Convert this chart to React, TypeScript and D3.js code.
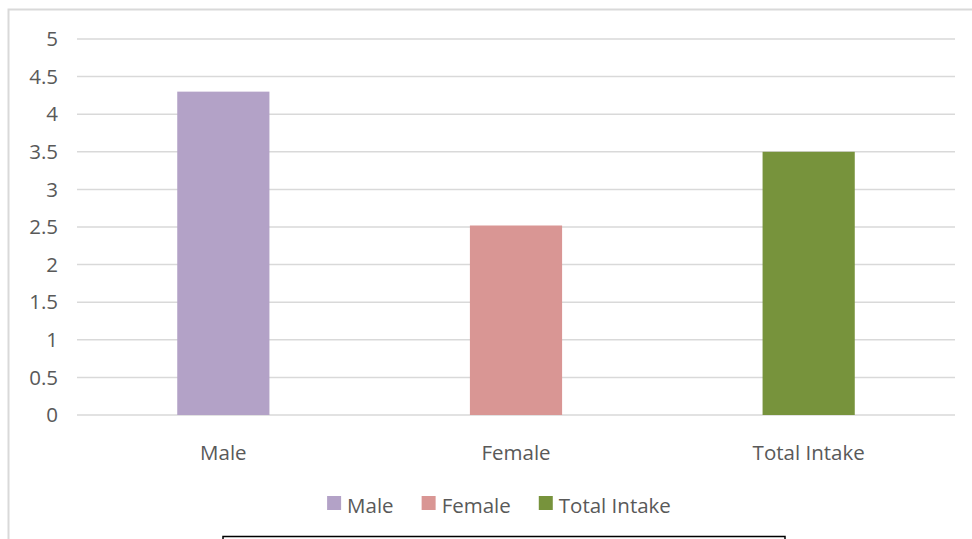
import React, { useEffect, useRef } from "react";
import * as d3 from "d3";

const categories = ["Male", "Female", "Total Intake"];
const values = [4.3, 2.52, 3.5];
const colors = ["#b3a2c7", "#d99694", "#77933c"];
const yTicks = [0, 0.5, 1, 1.5, 2, 2.5, 3, 3.5, 4, 4.5, 5];

const W = 972;
const H = 539;
const FONT = "'Open Sans', sans-serif";
const FS = 20.5;
const TEXT = "#595959";

const App = () => {
  const ref = useRef<SVGSVGElement | null>(null);

  useEffect(() => {
    const svg = d3.select(ref.current!);
    svg.selectAll("*").remove();

    // outer chart border (right/bottom run off the picture)
    svg.append("rect").attr("x", 8.5).attr("y", 9.5).attr("width", W + 20).attr("height", H + 20)
      .attr("fill", "#fff").attr("stroke", "#d9d9d9").attr("stroke-width", 2);

    const x = d3.scaleBand<string>().domain(categories).range([77, 955]).paddingInner(0.685).paddingOuter(0.3425);
    const y = d3.scaleLinear().domain([0, 5]).range([415, 39]);

    svg.append("g").selectAll("line").data(yTicks).join("line")
      .attr("x1", 77).attr("x2", 955)
      .attr("y1", d => y(d)).attr("y2", d => y(d))
      .attr("stroke", "#d9d9d9").attr("stroke-width", 1.5);

    svg.append("g").selectAll("text").data(yTicks).join("text")
      .attr("x", 58).attr("y", d => y(d)).attr("dy", "0.35em")
      .attr("text-anchor", "end").attr("font-family", FONT).attr("font-size", FS).attr("fill", TEXT)
      .text(d => String(d));

    svg.append("g").selectAll("rect").data(categories).join("rect")
      .attr("x", d => x(d)!).attr("width", x.bandwidth())
      .attr("y", (d, i) => y(values[i])).attr("height", (d, i) => y(0) - y(values[i]))
      .attr("fill", (d, i) => colors[i]);

    svg.append("g").selectAll("text").data(categories).join("text")
      .attr("x", d => x(d)! + x.bandwidth() / 2).attr("y", 460)
      .attr("text-anchor", "middle").attr("font-family", FONT).attr("font-size", FS).attr("fill", TEXT)
      .text(d => d);

    // legend
    const legend = svg.append("g");
    let cx = 0;
    categories.forEach((c, i) => {
      const g = legend.append("g").attr("transform", `translate(${cx},0)`);
      g.append("rect").attr("x", 0).attr("y", -10).attr("width", 14).attr("height", 14).attr("fill", colors[i]);
      const t = g.append("text").attr("x", 20).attr("y", 0).attr("dy", "0.35em")
        .attr("font-family", FONT).attr("font-size", FS).attr("fill", TEXT).text(c);
      const w = (t.node() as SVGTextElement).getComputedTextLength();
      cx += 20 + w + 28;
    });
    const total = cx - 28;
    legend.attr("transform", `translate(${499 - total / 2},506)`);

    // box peeking in at the bottom
    svg.append("rect").attr("x", 223).attr("y", 536.5).attr("width", 562).attr("height", 20)
      .attr("fill", "none").attr("stroke", "#000").attr("stroke-width", 1.5);
  }, []);

  return (
    <div style={{ position: "absolute", left: 0, top: 0, width: W, height: H }}>
      <svg ref={ref} width={W} height={H} style={{ display: "block" }} />
    </div>
  );
};

export default App;
